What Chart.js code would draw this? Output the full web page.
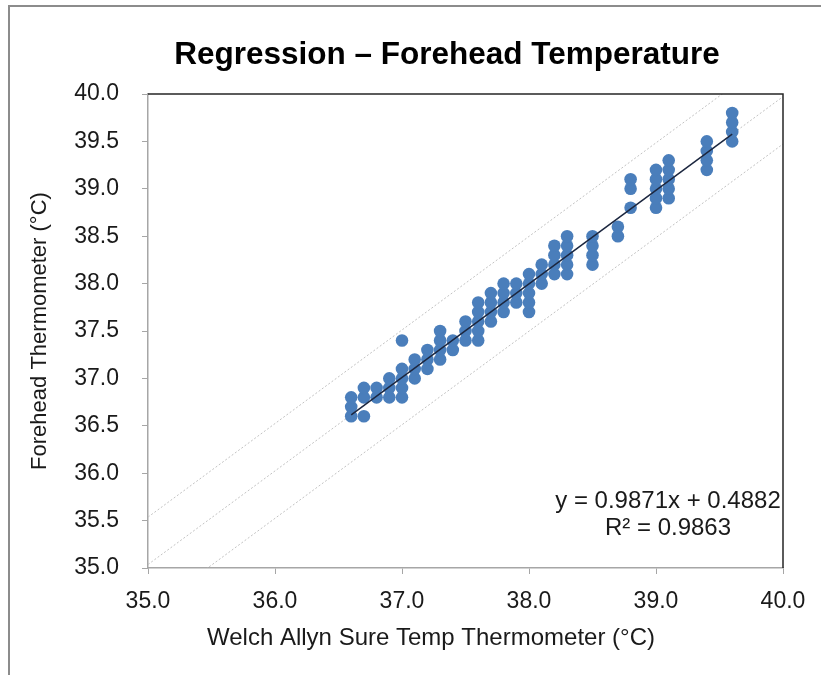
<!DOCTYPE html>
<html>
<head>
<meta charset="utf-8">
<title>Regression – Forehead Temperature</title>
<script src="https://cdn.jsdelivr.net/npm/chart.js@4/dist/chart.umd.min.js"></script>
<style>
  html, body { margin: 0; padding: 0; background: #fff; }
  canvas { display: block; }
</style>
</head>
<body>
<canvas id="chart" width="821" height="675"></canvas>
<script>
// Welch Allyn readings (x) and the forehead readings taken at each of them (y)
const sureTemp = [36.6, 36.7, 36.8, 36.9, 37.0, 37.1, 37.2, 37.3, 37.4, 37.5, 37.6, 37.7, 37.8,
  37.9, 38.0, 38.1, 38.2, 38.3, 38.5, 38.7, 38.8, 39.0, 39.1, 39.4, 39.6];
const foreheadTemp = [
  [36.6, 36.7, 36.8],
  [36.6, 36.8, 36.9],
  [36.8, 36.9],
  [36.8, 36.9, 37.0],
  [36.8, 36.9, 37.0, 37.1, 37.4],
  [37.0, 37.1, 37.2],
  [37.1, 37.2, 37.3],
  [37.2, 37.3, 37.4, 37.5],
  [37.3, 37.4],
  [37.4, 37.5, 37.6],
  [37.4, 37.5, 37.6, 37.7, 37.8],
  [37.6, 37.7, 37.8, 37.9],
  [37.7, 37.8, 37.9, 38.0],
  [37.8, 37.9, 38.0],
  [37.7, 37.8, 37.9, 38.0, 38.1],
  [38.0, 38.1, 38.2],
  [38.1, 38.2, 38.3, 38.4],
  [38.1, 38.2, 38.3, 38.4, 38.5],
  [38.2, 38.3, 38.4, 38.5],
  [38.5, 38.6],
  [38.8, 39.0, 39.1],
  [38.8, 38.9, 39.0, 39.1, 39.2],
  [38.9, 39.0, 39.1, 39.2, 39.3],
  [39.2, 39.3, 39.4, 39.5],
  [39.5, 39.6, 39.7, 39.8]
];
const xTicks = [35.0, 36.0, 37.0, 38.0, 39.0, 40.0];
const yTicks = [35.0, 35.5, 36.0, 36.5, 37.0, 37.5, 38.0, 38.5, 39.0, 39.5, 40.0];

// trend line from the chart's own label, and the width of the band around it
const slope = 0.9871;
const intercept = 0.4882;
const rSquared = 0.9863;
const band = 0.5;

const FONT = "'Liberation Sans', Arial, sans-serif";
const fit = x => slope * x + intercept;

const points = [];
sureTemp.forEach((x, i) => foreheadTemp[i].forEach(y => points.push({ x: x, y: y })));

const xLo = xTicks[0], xHi = xTicks[xTicks.length - 1];
const xFirst = sureTemp[0], xLast = sureTemp[sureTemp.length - 1];

const faint = {
  type: "line",
  borderColor: "#c2c2c2",
  borderWidth: 1,
  borderDash: [2, 2],
  pointRadius: 0,
  fill: false,
  order: 3,
};

const textPlugin = {
  id: "texts",
  beforeDraw(chart) {
    const ctx = chart.ctx;
    ctx.save();
    // outer frame
    ctx.strokeStyle = "#8c8c8c";
    ctx.lineWidth = 2;
    ctx.beginPath();
    ctx.moveTo(9, 675);
    ctx.lineTo(9, 6);
    ctx.lineTo(821, 6);
    ctx.stroke();
    ctx.restore();
  },
  afterDraw(chart) {
    const ctx = chart.ctx;
    const a = chart.chartArea;
    ctx.save();
    // plot area top and right edges
    ctx.strokeStyle = "#262626";
    ctx.lineWidth = 1.5;
    ctx.beginPath();
    ctx.moveTo(a.left, a.top);
    ctx.lineTo(a.right, a.top);
    ctx.lineTo(a.right, a.bottom);
    ctx.stroke();

    ctx.fillStyle = "#000";
    ctx.textAlign = "center";
    ctx.textBaseline = "middle";
    ctx.font = "bold 31.5px " + FONT;
    ctx.fillText("Regression – Forehead Temperature", 447, 55);

    ctx.fillStyle = "#1a1a1a";
    ctx.font = "24px " + FONT;
    ctx.fillText("Welch Allyn Sure Temp Thermometer (°C)", 431, 638);

    ctx.textBaseline = "alphabetic";
    ctx.fillText("y = " + slope + "x + " + intercept, 668, 508);
    ctx.fillText("R² = " + rSquared, 668, 535);
    ctx.restore();
  }
};

const ctx = document.getElementById("chart").getContext("2d");
new Chart(ctx, {
  type: "scatter",
  data: {
    datasets: [
      {
        label: "Readings",
        data: points,
        backgroundColor: "#4a7ebb",
        borderWidth: 0,
        pointRadius: 6.3,
        order: 2,
      },
      {
        label: "Trend",
        type: "line",
        data: [{ x: xFirst, y: fit(xFirst) }, { x: xLast, y: fit(xLast) }],
        borderColor: "#1c2740",
        borderWidth: 1.5,
        pointRadius: 0,
        order: 1,
      },
      Object.assign({ label: "Trend extended", data: [{ x: xLo, y: fit(xLo) }, { x: xHi, y: fit(xHi) }] }, faint),
      Object.assign({ label: "Upper", data: [{ x: xLo, y: fit(xLo) + band }, { x: xHi, y: fit(xHi) + band }] }, faint),
      Object.assign({ label: "Lower", data: [{ x: xLo, y: fit(xLo) - band }, { x: xHi, y: fit(xHi) - band }] }, faint),
    ],
  },
  options: {
    responsive: false,
    animation: false,
    devicePixelRatio: 1,
    layout: { padding: { left: 20, right: 38, top: 94, bottom: 0 } },
    plugins: {
      legend: { display: false },
      tooltip: { enabled: false },
    },
    scales: {
      x: {
        type: "linear",
        min: xLo,
        max: xHi,
        afterBuildTicks: s => { s.ticks = xTicks.map(v => ({ value: v })); },
        afterFit: s => { s.height = 675 - 568; },
        ticks: {
          autoSkip: false,
          maxRotation: 0,
          padding: 14,
          color: "#1a1a1a",
          font: { family: FONT, size: 23 },
          callback: v => v.toFixed(1),
        },
        grid: { drawOnChartArea: false, drawTicks: true, tickLength: 6, color: "#a6a6a6" },
        border: { color: "#a6a6a6", width: 1.5 },
      },
      y: {
        type: "linear",
        min: yTicks[0],
        max: yTicks[yTicks.length - 1],
        afterBuildTicks: s => { s.ticks = yTicks.map(v => ({ value: v })); },
        afterFit: s => { s.width = 148 - 20; },
        ticks: {
          autoSkip: false,
          padding: 23,
          color: "#1a1a1a",
          font: { family: FONT, size: 23 },
          callback: v => v.toFixed(1),
        },
        grid: { drawOnChartArea: false, drawTicks: true, tickLength: 6, color: "#a6a6a6" },
        border: { color: "#a6a6a6", width: 1.5 },
        title: {
          display: true,
          text: "Forehead Thermometer (°C)",
          color: "#1a1a1a",
          font: { family: FONT, size: 22 },
          padding: { top: 7, bottom: 0 },
        },
      },
    },
  },
  plugins: [textPlugin],
});
</script>
</body>
</html>
